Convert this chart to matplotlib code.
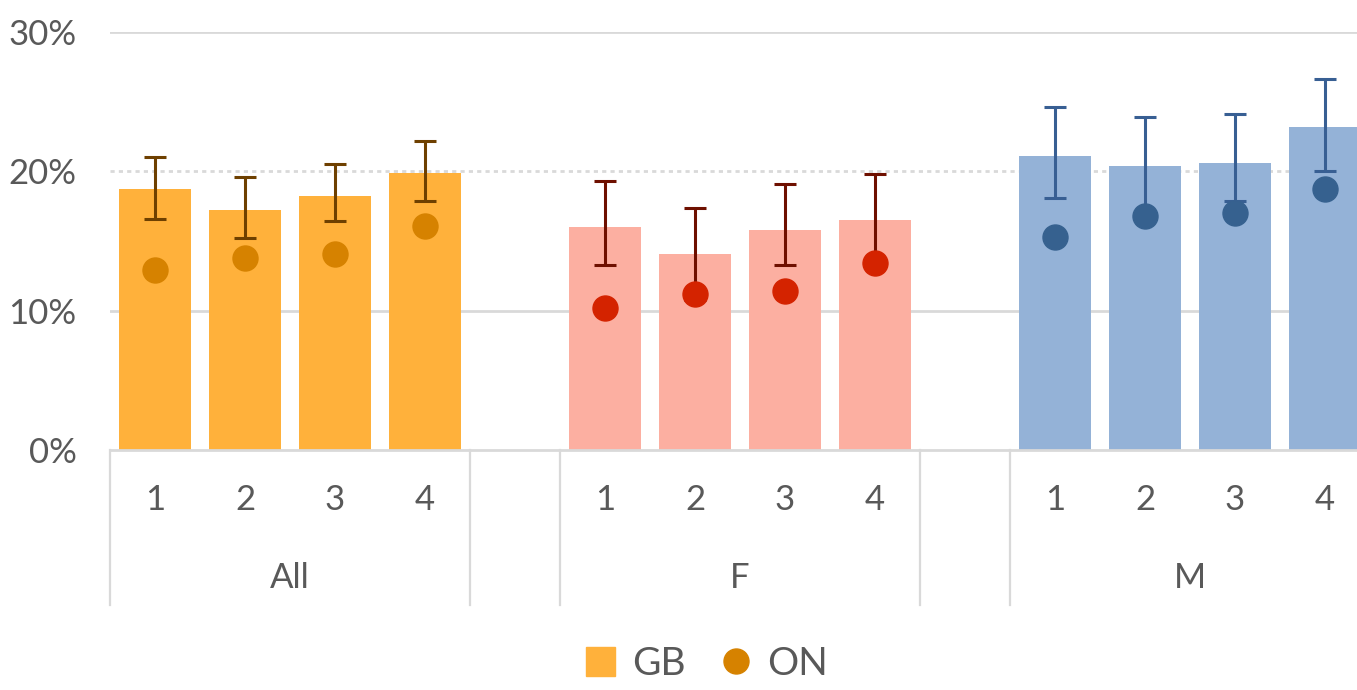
import numpy as np
import matplotlib.pyplot as plt
from matplotlib.patches import Patch
from matplotlib.lines import Line2D

plt.rcParams['font.family'] = ['Lato', 'DejaVu Sans']

# data (percent)
groups = ['All', 'F', 'M']
sub_labels = ['1', '2', '3', '4']
gb = {'All': [18.7, 17.2, 18.2, 19.9],
      'F': [16.0, 14.1, 15.8, 16.5],
      'M': [21.1, 20.4, 20.6, 23.2]}
gb_lo = {'All': [16.6, 15.2, 16.4, 17.9],
         'F': [13.3, 10.8, 13.3, 13.2],
         'M': [18.1, 17.0, 17.9, 20.0]}
gb_hi = {'All': [21.0, 19.6, 20.5, 22.2],
         'F': [19.3, 17.4, 19.1, 19.8],
         'M': [24.6, 23.9, 24.1, 26.6]}
on = {'All': [12.9, 13.8, 14.1, 16.1],
      'F': [10.2, 11.2, 11.4, 13.4],
      'M': [15.3, 16.8, 17.0, 18.7]}

bar_col = {'All': '#FFB13B', 'F': '#FCAFA1', 'M': '#94B2D7'}
dot_col = {'All': '#D68200', 'F': '#D42300', 'M': '#36618F'}
err_col = {'All': '#6E4000', 'F': '#6E1000', 'M': '#385F93'}
txt = '#595959'
grid = '#D9D9D9'

W, H = 1357, 690
fig = plt.figure(figsize=(W / 100, H / 100), dpi=100)
ax = fig.add_axes([110 / W, (H - 450) / H, 1260 / W, 418 / H])

ticks = []
for gi, g in enumerate(groups):
    x = np.arange(4) + gi * 5
    ticks += list(x)
    v = np.array(gb[g])
    err = [v - np.array(gb_lo[g]), np.array(gb_hi[g]) - v]
    ax.bar(x, v, width=0.79, color=bar_col[g], zorder=2)
    ax.errorbar(x, v, yerr=err, fmt='none', ecolor=err_col[g], elinewidth=2.2,
                capsize=8, capthick=2.2, zorder=3)
    ax.plot(x, on[g], 'o', color=dot_col[g], markersize=18, zorder=4)
    ax.text(gi * 5 + 1.5, -128 / 418, g, transform=ax.get_xaxis_transform(),
            ha='center', va='center', fontsize=25, color=txt)

ax.set_xlim(-0.5, 13.5)
ax.set_ylim(0, 30)
ax.set_yticks([0, 10, 20, 30])
ax.set_yticklabels(['0%', '10%', '20%', '30%'])
ax.set_xticks(ticks)
ax.set_xticklabels(sub_labels * 3)
ax.tick_params(axis='both', length=0, labelsize=25, labelcolor=txt)
ax.tick_params(axis='y', pad=24)
ax.tick_params(axis='x', pad=36)
for lab in ax.get_xticklabels():
    lab.set_va('center')

for s in ax.spines.values():
    s.set_visible(False)
ax.spines['bottom'].set_visible(True)
ax.spines['bottom'].set_color(grid)
ax.spines['bottom'].set_linewidth(2)

ax.yaxis.grid(True, color=grid, linewidth=2, zorder=0)
ax.set_axisbelow(True)
ax.yaxis.get_gridlines()[2].set_linestyle((0, (1.5, 1.5)))
ax.yaxis.get_gridlines()[0].set_visible(False)

# group separators under the axis
for xs in [-0.5, 3.5, 4.5, 8.5, 9.5]:
    ax.plot([xs, xs], [0, -155 / 418], color=grid, linewidth=1.6,
            transform=ax.get_xaxis_transform(), clip_on=False)

handles = [Patch(color=bar_col['All']),
           Line2D([], [], marker='o', linestyle='none', color=dot_col['All'], markersize=18)]
fig.legend(handles, ['GB', 'ON'], loc='center', bbox_to_anchor=(707 / W, 26 / H),
           ncol=2, frameon=False, fontsize=28, labelcolor=txt, handlelength=0.75,
           handleheight=0.75, handletextpad=0.45, columnspacing=0.9,
           borderpad=0.1)

fig.savefig('out.png', dpi=100)
